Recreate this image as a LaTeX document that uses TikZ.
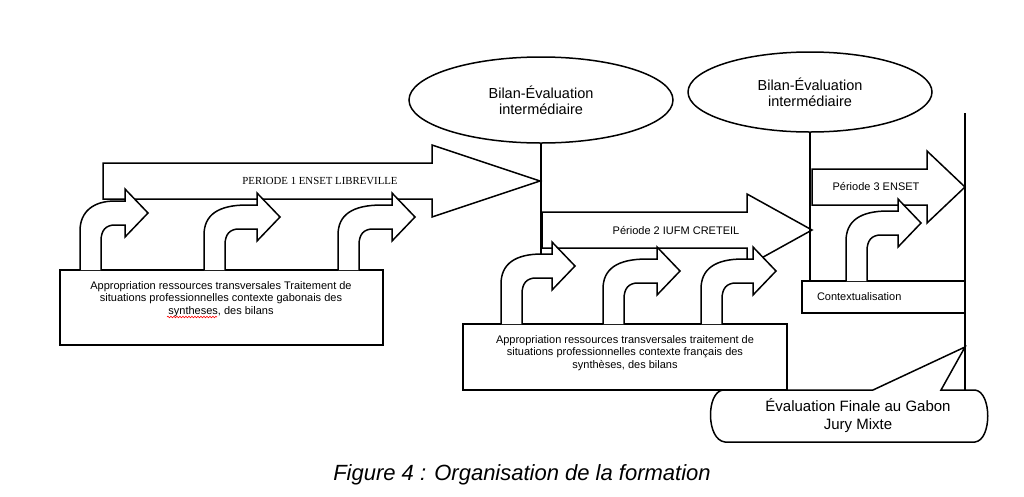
\documentclass[tikz,border=0pt]{standalone}
\usepackage{fontspec}
\setmainfont{Liberation Sans}
\newfontfamily\timesFont{Liberation Serif}
\usepackage{tikz}
\usetikzlibrary{positioning, shapes.geometric, decorations.pathmorphing}
\tikzstyle{canvas} = [x = 1pt, y = -1pt, line width = 1.5pt]
\tikzstyle{arrowStyle} = [draw = black, fill = white, line width = 1.5pt]
\tikzstyle{boxStyle} = [draw = black, fill = white, line width = 1.5pt, rectangle, inner sep = 0pt]
\tikzstyle{bilanStyle} = [draw = black, fill = white, ellipse, line width = 1.5pt, inner sep = 0pt, align = center, font = \fontsize{14.5}{16}\selectfont]
\tikzstyle{smallText} = [font = \fontsize{11}{12.5}\selectfont, align = center, inner sep = 0pt]
\tikzstyle{serifText} = [font = \timesFont\fontsize{10.8}{12}\selectfont, inner sep = 0pt]
\tikzstyle{bigText} = [font = \fontsize{15}{18}\selectfont, align = center, inner sep = 0pt]
\tikzstyle{spellMark} = [color = red, line width = 0.6pt, decorate, decoration = {snake, amplitude = 0.8pt, segment length = 3pt}]
\newcommand{\shaftHalf}{18}
\newcommand{\headHalf}{36}
\newcommand{\stemWidth}{21}
\newcommand{\headLength}{23}
\newcommand{\blockArrow}[4]{\filldraw [arrowStyle] (#1, #4 - \shaftHalf) -- (#2, #4 - \shaftHalf) -- (#2, #4 - \headHalf) -- (#3, #4) -- (#2, #4 + \headHalf) -- (#2, #4 + \shaftHalf) -- (#1, #4 + \shaftHalf) -- cycle;}
\newcommand{\bentArrow}[4]{\filldraw [arrowStyle] (#1, #4) -- (#1, #3 + 18) .. controls (#1, #3 - 2) and (#1 + 14, #3 - 12) .. (#2 - 10, #3 - 12) -- (#2, #3 - 12) -- (#2, #3 - 24) -- (#2 + \headLength, #3) -- (#2, #3 + 24) -- (#2, #3 + 12) -- (#1 + \stemWidth + 14, #3 + 12) .. controls (#1 + \stemWidth + 5, #3 + 12) and (#1 + \stemWidth, #3 + 17) .. (#1 + \stemWidth, #3 + 28) -- (#1 + \stemWidth, #4);}
\begin{document}
\begin{tikzpicture}[canvas]
  \useasboundingbox (0, 0) rectangle (1024, 496);
  \blockArrow{103}{432}{540}{181}
  \blockArrow{542}{747}{812}{230}
  \blockArrow{812}{927}{965}{187}
  \node [serifText] (periodeUn) at (320, 181) {PERIODE 1 ENSET LIBREVILLE};
  \node [smallText] (periodeDeux) at (676, 230) {Période 2 IUFM CRETEIL};
  \node [smallText] (periodeTrois) at (876, 186) {Période 3 ENSET};

  \node [bilanStyle, minimum width = 264pt, minimum height = 86pt] (bilanUn) at (541, 100) {Bilan-Évaluation\\intermédiaire};
  \node [bilanStyle, minimum width = 244pt, minimum height = 80pt] (bilanDeux) at (810, 92) {Bilan-Évaluation\\intermédiaire};

  \node [boxStyle, minimum width = 323pt, minimum height = 75pt] (boxUn) at (221.5, 307.5) {};
  \node [boxStyle, minimum width = 324pt, minimum height = 66pt] (boxDeux) at (625, 357) {};
  \node [boxStyle, minimum width = 163pt, minimum height = 32pt] (ctxBox) at (883.5, 297) {};

  \coordinate (finUn) at (541, 254);
  \coordinate (limiteHaut) at (965, 113);
  \coordinate (limiteBas) at (965, 390);
  \draw (bilanUn.south) -- (finUn);
  \draw (bilanDeux.south) -- (bilanDeux.south |- ctxBox.north);
  \draw (limiteHaut) -- (limiteBas);

  \bentArrow{80}{125}{213}{270}
  \bentArrow{204}{257}{217}{270}
  \bentArrow{338}{392}{217}{270}
  \bentArrow{501}{552}{266}{324}
  \bentArrow{603}{657}{271}{324}
  \bentArrow{701}{753}{271}{324}
  \bentArrow{846}{898}{223}{281}

  \node [smallText] (texteUn) at (221, 299) {Appropriation ressources transversales Traitement de\\situations professionnelles contexte gabonais des\\syntheses, des bilans};
  \draw [spellMark] (167, 317) -- (217, 317);
  \node [smallText] (texteDeux) at (625, 353) {Appropriation ressources transversales traitement de\\situations professionnelles contexte français des\\synthèses, des bilans};
  \node [smallText, right = 15pt of ctxBox.west] (texteCtx) {Contextualisation};

  \filldraw [arrowStyle] (723, 390) -- (873, 390) -- (965, 347) -- (941, 390) -- (975, 390) .. controls (992, 392) and (992, 440) .. (975, 442) -- (725, 442) .. controls (706, 440) and (706, 392) .. (723, 390) -- cycle;
  \node [bigText] (evaluationFinale) at (858, 416) {Évaluation Finale au Gabon\\Jury Mixte};

  \node [font = \itshape\fontsize{22}{24}\selectfont, inner sep = 0pt] (legende) at (522, 475) {Figure 4 : Organisation de la formation};
\end{tikzpicture}
\end{document}
